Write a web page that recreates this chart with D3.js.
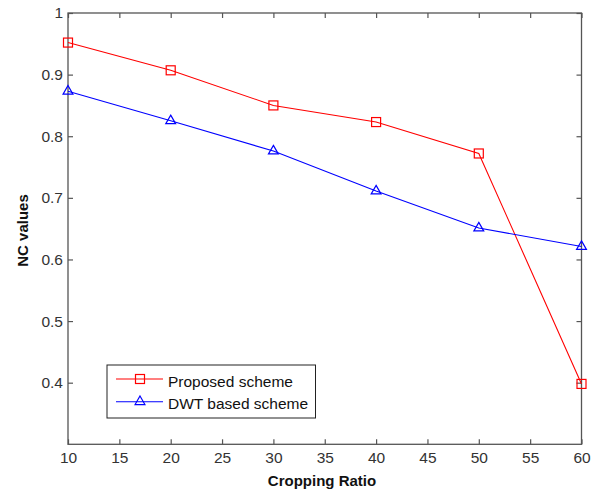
<!DOCTYPE html>
<html><head><meta charset="utf-8">
<script src="https://cdn.jsdelivr.net/npm/d3@7"></script>
<style>body{margin:0;background:#fff}svg{display:block}</style>
</head><body>
<svg id="c" width="595" height="495"></svg>
<script>
const xValues = [10, 20, 30, 40, 50, 60];
const proposed = [0.952, 0.907, 0.850, 0.823, 0.772, 0.398];
const dwt = [0.873, 0.825, 0.776, 0.711, 0.651, 0.621];
const xTicks = [10, 15, 20, 25, 30, 35, 40, 45, 50, 55, 60];
const yTicks = [0.4, 0.5, 0.6, 0.7, 0.8, 0.9, 1];
const seriesNames = ["Proposed scheme", "DWT based scheme"];
const seriesColors = ["#ff0000", "#0000ff"];

const svg = d3.select("#c");
const L = 68, R = 581.5, T = 13, B = 444.3;
const x = d3.scaleLinear().domain([10, 60]).range([L, R]);
const y = d3.scaleLinear().domain([0.3, 1]).range([B, T]);
const axisColor = "#555";
const font = "Arial, 'Liberation Sans', sans-serif";

// frame
svg.append("rect").attr("x", L).attr("y", T).attr("width", R - L).attr("height", B - T)
  .attr("fill", "none").attr("stroke", axisColor).attr("stroke-width", 1.3);

function styleAxis(g) {
  g.select(".domain").remove();
  g.selectAll(".tick line").attr("stroke", axisColor).attr("stroke-width", 1.2);
  g.selectAll(".tick text").attr("fill", "#333").attr("font-family", font).attr("font-size", 15.5);
}
svg.append("g").attr("transform", `translate(0,${B})`)
  .call(d3.axisBottom(x).tickValues(xTicks).tickSizeInner(-5).tickSizeOuter(0).tickPadding(8).tickFormat(d3.format("d")))
  .call(styleAxis);
svg.append("g").attr("transform", `translate(0,${T})`)
  .call(d3.axisTop(x).tickValues(xTicks).tickSizeInner(-5).tickSizeOuter(0).tickFormat(""))
  .call(styleAxis);
svg.append("g").attr("transform", `translate(${L},0)`)
  .call(d3.axisLeft(y).tickValues(yTicks).tickSizeInner(-5).tickSizeOuter(0).tickPadding(5).tickFormat(d => d === 1 ? "1" : d3.format(".1f")(d)))
  .call(styleAxis);
svg.append("g").attr("transform", `translate(${R},0)`)
  .call(d3.axisRight(y).tickValues(yTicks).tickSizeInner(-5).tickSizeOuter(0).tickFormat(""))
  .call(styleAxis);

const line = d3.line().x(d => x(d[0])).y(d => y(d[1]));
const data = [proposed, dwt].map(s => xValues.map((v, i) => [v, s[i]]));
const sq = 9, tri = d3.symbol().type(d3.symbolTriangle).size(42);

function marker(g, idx, cx, cy) {
  if (idx === 0) {
    g.append("rect").attr("x", cx - sq / 2).attr("y", cy - sq / 2).attr("width", sq).attr("height", sq)
      .attr("fill", "none").attr("stroke", seriesColors[0]).attr("stroke-width", 1.2);
  } else {
    g.append("path").attr("d", tri()).attr("transform", `translate(${cx},${cy})`)
      .attr("fill", "none").attr("stroke", seriesColors[1]).attr("stroke-width", 1.2);
  }
}

data.forEach((pts, i) => {
  svg.append("path").datum(pts).attr("d", line).attr("fill", "none")
    .attr("stroke", seriesColors[i]).attr("stroke-width", 1.1);
  const g = svg.append("g");
  pts.forEach(p => marker(g, i, x(p[0]), y(p[1])));
});

// legend
const lg = svg.append("g");
lg.append("rect").attr("x", 107).attr("y", 365).attr("width", 208.5).attr("height", 53)
  .attr("fill", "#fff").attr("stroke", "#222").attr("stroke-width", 1);
seriesNames.forEach((n, i) => {
  const ly = 379 + i * 22.7;
  lg.append("line").attr("x1", 116).attr("x2", 163).attr("y1", ly).attr("y2", ly)
    .attr("stroke", seriesColors[i]).attr("stroke-width", 1.1);
  marker(lg, i, 140, ly);
  lg.append("text").attr("x", 168).attr("y", ly + 7.5).text(n)
    .attr("font-family", font).attr("font-size", 15.5).attr("fill", "#111");
});

// axis labels
svg.append("text").attr("x", 322).attr("y", 486).attr("text-anchor", "middle")
  .attr("font-family", font).attr("font-weight", "bold").attr("font-size", 15).attr("fill", "#111")
  .text("Cropping Ratio");
svg.append("text").attr("transform", "translate(28,230.5) rotate(-90)").attr("text-anchor", "middle")
  .attr("font-family", font).attr("font-weight", "bold").attr("font-size", 15).attr("fill", "#111")
  .text("NC values");
</script>
</body></html>
